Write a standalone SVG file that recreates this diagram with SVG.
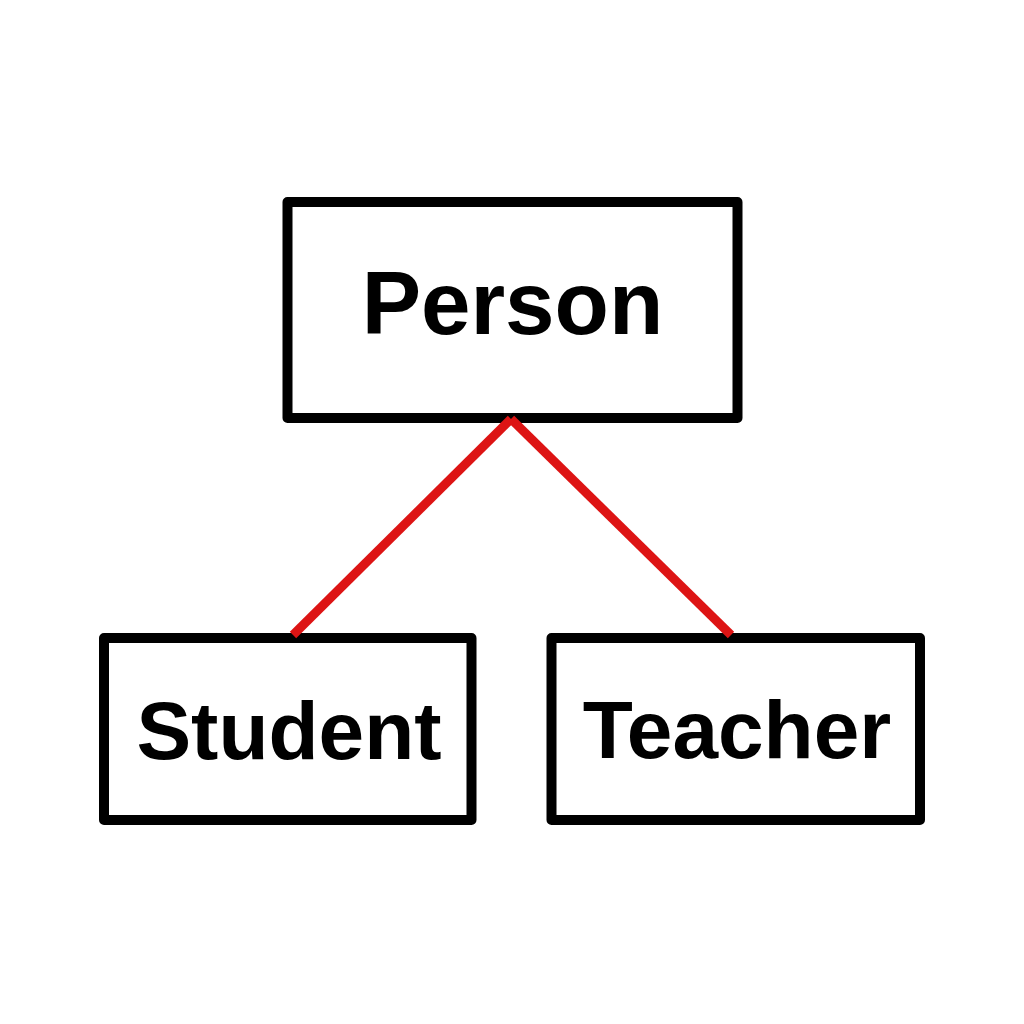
<svg xmlns="http://www.w3.org/2000/svg" width="1024" height="1024" viewBox="0 0 1024 1024">
  <style>
    .box { fill: #ffffff; stroke: #000000; stroke-width: 10; stroke-linejoin: round; }
    .label { font-family: "Liberation Sans", Arial, sans-serif; font-weight: bold; fill: #000000; text-anchor: middle; }
    .conn { stroke: #dd1414; stroke-width: 9; stroke-linecap: butt; fill: none; }
  </style>
  <rect x="0" y="0" width="1024" height="1024" fill="#ffffff"/>
  <g id="node-person">
    <rect class="box" x="287.5" y="202" width="450" height="216"/>
    <text class="label" x="512.5" y="334" font-size="89">Person</text>
  </g>
  <g id="node-student">
    <rect class="box" x="104" y="638" width="367.5" height="182"/>
    <text class="label" x="289" y="759" font-size="82">Student</text>
  </g>
  <g id="node-teacher">
    <rect class="box" x="551.5" y="638" width="368.5" height="182"/>
    <text class="label" x="737" y="758" font-size="82">Teacher</text>
  </g>
  <g id="connectors">
    <line class="conn" x1="511" y1="419" x2="293" y2="635"/>
    <line class="conn" x1="511" y1="419" x2="731" y2="635"/>
  </g>
</svg>
